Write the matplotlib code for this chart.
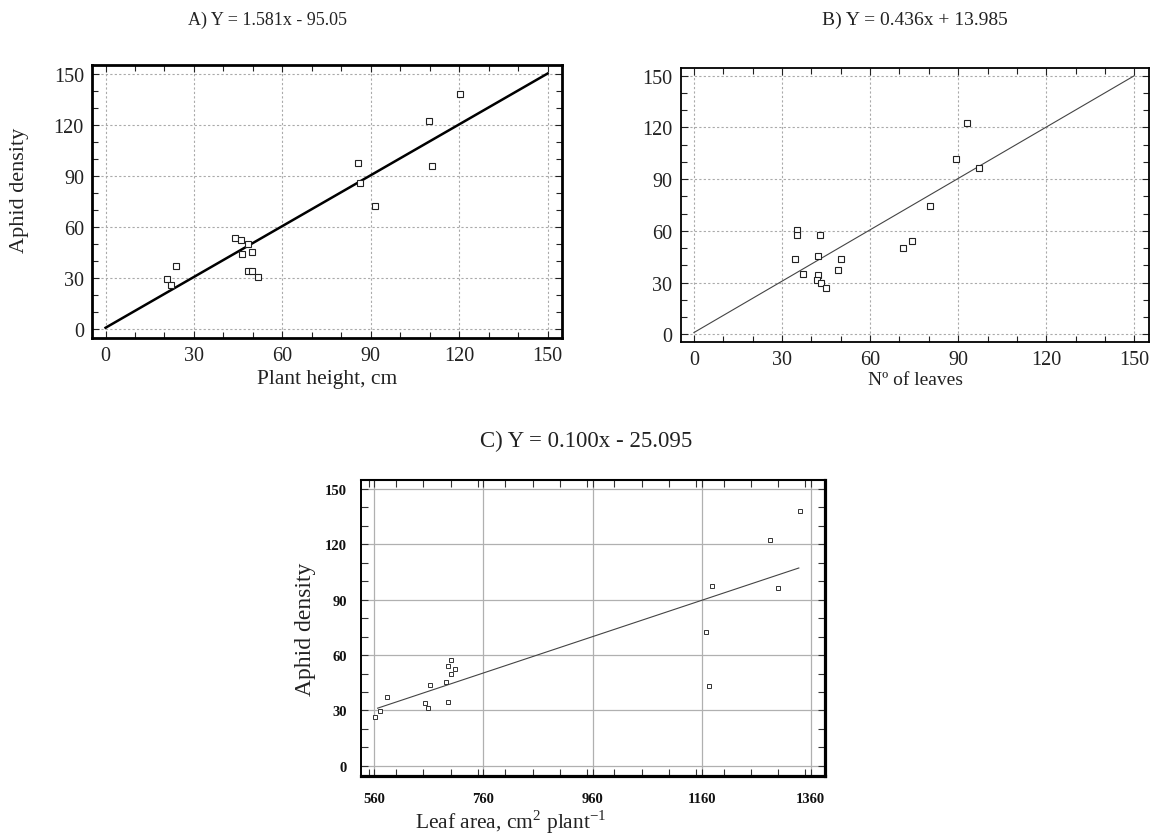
import matplotlib
matplotlib.use("Agg")
import matplotlib.pyplot as plt
from matplotlib.ticker import MultipleLocator

plt.rcParams['font.family'] = ['Liberation Serif', 'DejaVu Serif']
plt.rcParams['mathtext.fontset'] = 'custom'
plt.rcParams['mathtext.rm'] = 'Liberation Serif'

# ---- Data ----
# Panel A: plant height vs aphid density
a_x = [120.2, 109.7, 110.9, 85.7, 86.3, 91.3, 43.9, 45.9, 48.2, 49.8, 46.3,
       48.4, 49.8, 51.9, 23.9, 20.7, 22.3]
a_y = [138.1, 122.3, 96.0, 97.5, 85.8, 72.6, 53.8, 52.3, 49.9, 45.6, 44.1,
       34.5, 34.5, 31.0, 37.3, 29.6, 26.1]
a_fit_x = [0, 150]
a_fit_y = [1, 150]

# Panel B: number of leaves vs aphid density
b_x = [93.0, 89.2, 97.0, 80.3, 74.4, 71.2, 35.0, 35.2, 43.0, 34.5, 42.2,
       50.1, 49.0, 37.2, 42.2, 42.0, 43.3, 45.1]
b_y = [122.4, 101.9, 96.5, 74.6, 53.9, 50.3, 60.7, 57.6, 57.6, 43.5, 45.4,
       43.9, 37.5, 34.8, 34.4, 31.7, 30.0, 26.7]
b_fit_x = [0, 150]
b_fit_y = [1, 150]

# Panel C: leaf area vs aphid density
c_x = [1339.7, 1286.0, 1299.1, 1178.0, 1168.2, 1173.4, 700.1, 694.2, 707.3,
       700.8, 690.9, 661.5, 694.2, 653.0, 657.6, 582.3, 569.8, 561.3]
c_y = [138.1, 122.4, 96.2, 97.5, 72.6, 43.1, 57.4, 53.8, 52.2, 49.6, 45.3,
       44.0, 34.3, 33.9, 31.2, 37.0, 29.6, 26.4]
c_fit_x = [566, 1338]
c_fit_y = [31.2, 107.2]

title_a = "A) Y = 1.581x - 95.05"
title_b = "B) Y = 0.436x + 13.985"
title_c = "C) Y = 0.100x - 25.095"
xlabel_a = "Plant height, cm"
xlabel_b = "Nº of leaves"
xlabel_c = r"Leaf area, cm$^{\mathregular{2}}$ plant$^{\mathregular{-1}}$"
ylabel = "Aphid density"
ticks_ab = [0, 30, 60, 90, 120, 150]
ticks_c_x = [560, 760, 960, 1160, 1360]
ticks_c_y = [0, 30, 60, 90, 120, 150]

W, H = 1152, 837
fig = plt.figure(figsize=(W / 100, H / 100), dpi=100)


def box(l, t, r, b):
    return [l / W, 1 - b / H, (r - l) / W, (b - t) / H]


def style_ab(ax, lw):
    ax.set_xlim(-4.5, 155)
    ax.set_ylim(-5, 155)
    ax.set_xticks(ticks_ab)
    ax.set_yticks(ticks_ab)
    ax.xaxis.set_minor_locator(MultipleLocator(10))
    ax.yaxis.set_minor_locator(MultipleLocator(10))
    ax.grid(True, which='major', color='#aaaaaa', linestyle=(0, (2, 2)), linewidth=0.8)
    ax.set_axisbelow(True)
    ax.tick_params(which='both', direction='in', top=True, right=True,
                   colors='#222222', labelcolor='#222222', labelsize=14.5, pad=6)
    ax.tick_params(which='major', length=5, width=0.8)
    ax.tick_params(which='minor', length=4, width=0.8)
    for s in ax.spines.values():
        s.set_linewidth(lw)
        s.set_color('black')


# Panel A
axA = fig.add_axes(box(92.3, 66, 562.3, 339))
style_ab(axA, 2.0)
axA.plot(a_fit_x, a_fit_y, color='black', linewidth=1.8, zorder=3)
axA.plot(a_x, a_y, linestyle='none', marker='s', markersize=4.5,
         markerfacecolor='white', markeredgecolor='#222222', markeredgewidth=0.8, zorder=4)

# Panel B
axB = fig.add_axes(box(680.7, 69.3, 1149, 342.7))
style_ab(axB, 1.3)
axB.set_ylim(-4.3, 154.3)
axB.plot(b_fit_x, b_fit_y, color='#444444', linewidth=0.8, zorder=3)
axB.plot(b_x, b_y, linestyle='none', marker='s', markersize=4.5,
         markerfacecolor='white', markeredgecolor='#222222', markeredgewidth=0.8, zorder=4)

# Panel C
axC = fig.add_axes(box(360.7, 481, 825, 776.7))
axC.set_xlim(535, 1386)
axC.set_ylim(-5.4, 154.9)
axC.set_xticks(ticks_c_x)
axC.set_yticks(ticks_c_y)
axC.xaxis.set_minor_locator(MultipleLocator(50))
axC.yaxis.set_minor_locator(MultipleLocator(10))
axC.grid(True, which='major', color='#b0b0b0', linestyle='-', linewidth=0.9)
axC.set_axisbelow(True)
axC.tick_params(which='both', direction='in', top=True, right=True,
                colors='#333333', labelcolor='#111111', labelsize=10.5)
axC.tick_params(axis='x', pad=12)
axC.tick_params(axis='y', pad=10)
axC.tick_params(which='major', length=5, width=0.8)
axC.tick_params(which='minor', length=5, width=0.8)
for lab in axC.get_xticklabels() + axC.get_yticklabels():
    lab.set_fontweight('bold')
for name, s in axC.spines.items():
    s.set_color('black')
    s.set_linewidth({'left': 1.4, 'top': 1.5, 'right': 2.3, 'bottom': 2.3}[name])
axC.plot(c_fit_x, c_fit_y, color='#444444', linewidth=0.8, zorder=3)
axC.plot(c_x, c_y, linestyle='none', marker='s', markersize=3.3,
         markerfacecolor='white', markeredgecolor='#333333', markeredgewidth=0.7, zorder=4)

# Texts
def ft(x, y, s, size, rot=0):
    fig.text(x / W, 1 - y / H, s, ha='center', va='center', fontsize=size,
             rotation=rot, color='#222222')

ft(267, 20, title_a, 13)
ft(915, 20, title_b, 14)
ft(586, 441, title_c, 16.5)
ft(327, 380, xlabel_a, 15.5)
ft(915, 381, xlabel_b, 14)
ft(20, 190, ylabel, 16, rot=90)
ft(305, 629, ylabel, 17, rot=90)
ft(511, 822, xlabel_c, 15.5)

fig.savefig("out.png", dpi=100)
